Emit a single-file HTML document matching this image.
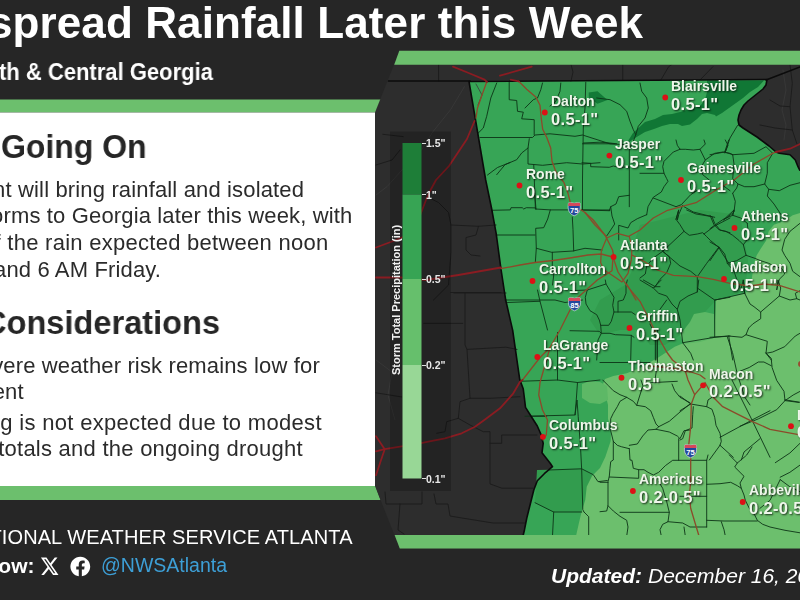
<!DOCTYPE html>
<html><head><meta charset="utf-8"><style>
html,body{margin:0;padding:0;}
body{width:800px;height:600px;overflow:hidden;position:relative;background:#262626;font-family:"Liberation Sans",sans-serif;}
.t{position:absolute;white-space:nowrap;line-height:1;will-change:transform;}
.map{position:absolute;left:0;top:0;}
.tick{position:absolute;left:421.5px;width:4px;height:1px;background:#e0e0e0;}
</style></head><body>
<svg class="map" width="800" height="600"><polygon points="0,99.5 381.5,99.5 376,112.5 0,112.5" fill="#6cbf6d"/>
<rect x="0" y="112.5" width="375.5" height="373.5" fill="#ffffff"/>
<polygon points="0,486 375.5,486 380.5,500 0,500" fill="#6cbf6d"/></svg>
<svg class="map" width="800" height="600" viewBox="0 0 800 600">
<defs><clipPath id="mc"><polygon points="399.6,50.5 800,50.5 800,549 400,549 375,486 375,112.5"/></clipPath></defs>
<g clip-path="url(#mc)">
<rect x="370" y="50" width="430" height="500" fill="#2d2d2d"/>
<polygon points="469,81.5 767,79.5 766,85 763,89 758,93 753,97 748,101 744,105 741,110 739,115 738,120 739,125 743,128 757,137 769,146 776,152 779.3,153.3 790,154.7 795.3,160 798,166.7 800,170.7 800,536 523,536 524.5,529.7 526.8,518 530.3,504 533.8,490 537.3,480.7 544.3,473.7 552.5,466.7 550.2,463.2 542,452.7 543.2,443.3 540.8,434 537.3,426 531.4,416.7 525.5,407.4 524.4,398 523.2,388.7 519.7,379.4 512.7,330.4 505.7,300 500.9,268.7 496.2,233.7 491.5,208 485.7,180" fill="#37a556"/>
<polygon points="640,225 700,210 740,215 748,260 746,283 742,292 716,300 705,312 690,322 680,335 665,345 650,345 640,330 620,330 600,335 590,320 600,300 625,285 635,265 635,240" fill="#329c4e"/>
<polygon points="537,470 582,469 593,475 585,500 582,512 553,512 535,503" fill="#329c4e"/>
<polygon points="800,213 792.7,215.3 784.7,220.7 774,224.7 768.7,231.3 766,240.7 760.7,248.7 756.7,255.3 754,263.3 752.7,272.7 751.3,282 750,290 744.7,293.3 730,297 716,300 715,320 714,338 700,341 688,341.3 674.7,346.7 658.7,357.3 640,368 626.7,373.3 613.3,376 605,379 603,384 605,392 608,405 608,419 611,429 610.7,441 605.3,457 600,468 592,476 586.7,486.7 585.3,500 581.3,513 578.7,524 576,536 800,536" fill="#6cbf6d"/>
<polygon points="694,314 705,312 714,314 714,338 700,342 684,344 680,335 690,322" fill="#5db866"/>
<polygon points="582,384 590,381 600,382 607,386 608,400 600,404 590,403 582,398" fill="#5db866"/>
<polygon points="628,141 633,133 645,122 655,119 663,115 672,114 680,112 690,109 700,106 705,100 707,92 707,80.5 764,80.5 758,87 750,92 743,98 736,103 729,108 722,113 716,116.5 715,115 707,113 702,114 697,119 690,124.5 682,126 678,124 670,124 662,126 654,129 645,132 635,138 628,143" fill="#107735"/>
<polygon points="588.75,92.5 597.5,91.25 607.5,100 597.5,103.75 588.75,97.5" fill="#137a37"/>
<polyline points="783,70 786,90 782,110 786,125 784,140" fill="none" stroke="#3a3a3a" stroke-width="0.8" stroke-opacity="1" stroke-linejoin="round" stroke-linecap="round"/><polyline points="464.4,86.7 450.8,109.4 432.7,132 421.4,150.2 405.5,166 387.3,186.4 376,195" fill="none" stroke="#3a3a3a" stroke-width="0.8" stroke-opacity="1" stroke-linejoin="round" stroke-linecap="round"/><polyline points="476,84 482,95 478,105" fill="none" stroke="#3a3a3a" stroke-width="0.8" stroke-opacity="1" stroke-linejoin="round" stroke-linecap="round"/><polyline points="376,360 392,372 388,395 395,420" fill="none" stroke="#3a3a3a" stroke-width="0.8" stroke-opacity="1" stroke-linejoin="round" stroke-linecap="round"/><polyline points="454,293 506,293" fill="none" stroke="#1b1b1b" stroke-width="0.9" stroke-opacity="1" stroke-linejoin="round" stroke-linecap="round"/><polyline points="465,293 465,345 467,349.4 506,347.2 517,349.4" fill="none" stroke="#1b1b1b" stroke-width="0.9" stroke-opacity="1" stroke-linejoin="round" stroke-linecap="round"/><polyline points="467,349.4 470,398.3 490,398.3 520,396.7" fill="none" stroke="#1b1b1b" stroke-width="0.9" stroke-opacity="1" stroke-linejoin="round" stroke-linecap="round"/><polyline points="470,398.3 460,401.7 458.3,418.3 446.7,421.7 445,431.7 436.7,433.3" fill="none" stroke="#1b1b1b" stroke-width="0.9" stroke-opacity="1" stroke-linejoin="round" stroke-linecap="round"/><polyline points="458.3,418.3 470,425 483.3,431.7 490,431.7 490,483.9 501.8,488.2 533,488.2" fill="none" stroke="#1b1b1b" stroke-width="0.9" stroke-opacity="1" stroke-linejoin="round" stroke-linecap="round"/><polyline points="490,443.3 501.7,443.3 501.7,435 537,435" fill="none" stroke="#1b1b1b" stroke-width="0.9" stroke-opacity="1" stroke-linejoin="round" stroke-linecap="round"/><polyline points="376,392.8 402,397" fill="none" stroke="#1b1b1b" stroke-width="0.9" stroke-opacity="1" stroke-linejoin="round" stroke-linecap="round"/><polyline points="385,492 386,504 422,504 422,492" fill="none" stroke="#1b1b1b" stroke-width="0.9" stroke-opacity="1" stroke-linejoin="round" stroke-linecap="round"/><polyline points="434,494 436,504 448,504 450,516 462,518 493,523 525,523" fill="none" stroke="#1b1b1b" stroke-width="0.9" stroke-opacity="1" stroke-linejoin="round" stroke-linecap="round"/><polyline points="400,504 398,530 404,534" fill="none" stroke="#1b1b1b" stroke-width="0.9" stroke-opacity="1" stroke-linejoin="round" stroke-linecap="round"/><polyline points="423.7,323.4 462.8,323.4" fill="none" stroke="#1b1b1b" stroke-width="0.9" stroke-opacity="1" stroke-linejoin="round" stroke-linecap="round"/><polyline points="438.6,64.5 438.6,81" fill="none" stroke="#1b1b1b" stroke-width="0.9" stroke-opacity="1" stroke-linejoin="round" stroke-linecap="round"/><polyline points="571,64.5 573,72 571,81" fill="none" stroke="#1b1b1b" stroke-width="0.9" stroke-opacity="1" stroke-linejoin="round" stroke-linecap="round"/><polyline points="622.8,64.5 622.8,80" fill="none" stroke="#1b1b1b" stroke-width="0.9" stroke-opacity="1" stroke-linejoin="round" stroke-linecap="round"/><polyline points="660.9,80 668.7,66.6 672,64.5" fill="none" stroke="#1b1b1b" stroke-width="0.9" stroke-opacity="1" stroke-linejoin="round" stroke-linecap="round"/><polyline points="700,80 713,66.6" fill="none" stroke="#1b1b1b" stroke-width="0.9" stroke-opacity="1" stroke-linejoin="round" stroke-linecap="round"/><polyline points="790,64.7 792.3,83.3 790,106.7 792.3,130 797,144" fill="none" stroke="#1b1b1b" stroke-width="0.9" stroke-opacity="1" stroke-linejoin="round" stroke-linecap="round"/><polyline points="770,100 780,106 790,106.7" fill="none" stroke="#1b1b1b" stroke-width="0.9" stroke-opacity="1" stroke-linejoin="round" stroke-linecap="round"/><polyline points="760,125 775,128 792.3,130" fill="none" stroke="#1b1b1b" stroke-width="0.9" stroke-opacity="1" stroke-linejoin="round" stroke-linecap="round"/><polyline points="451,225 478.5,226.3 496,225" fill="none" stroke="#1b1b1b" stroke-width="0.9" stroke-opacity="1" stroke-linejoin="round" stroke-linecap="round"/><polyline points="478.5,226.3 476,235 466,237.5 466,250 471,255 480,256" fill="none" stroke="#1b1b1b" stroke-width="0.9" stroke-opacity="1" stroke-linejoin="round" stroke-linecap="round"/><polyline points="423.5,195 438.5,202.5 448.5,212.5 451,225 451,252.5 448.5,285 433.5,300" fill="none" stroke="#1b1b1b" stroke-width="0.9" stroke-opacity="1" stroke-linejoin="round" stroke-linecap="round"/><polyline points="451,292.5 501,292.5" fill="none" stroke="#1b1b1b" stroke-width="0.9" stroke-opacity="1" stroke-linejoin="round" stroke-linecap="round"/><polyline points="382.8,134.3 403.2,136.6" fill="none" stroke="#1b1b1b" stroke-width="0.9" stroke-opacity="1" stroke-linejoin="round" stroke-linecap="round"/><polyline points="376,165 392,160 400,150" fill="none" stroke="#1b1b1b" stroke-width="0.9" stroke-opacity="1" stroke-linejoin="round" stroke-linecap="round"/><polyline points="496.7,83 490.8,98 486.7,116.3 483.3,128 478.3,133" fill="none" stroke="#0c3316" stroke-width="0.9" stroke-opacity="1" stroke-linejoin="round" stroke-linecap="round"/><polyline points="509.2,82.2 509.2,99.7 516.7,100.5 517.5,111.3 523.3,112.2 521.7,118.8 534.2,119.7 534.2,134.7" fill="none" stroke="#0c3316" stroke-width="0.9" stroke-opacity="1" stroke-linejoin="round" stroke-linecap="round"/><polyline points="525,108 533.3,99.7 537.5,98 540.8,89.7 542.5,83" fill="none" stroke="#0c3316" stroke-width="0.9" stroke-opacity="1" stroke-linejoin="round" stroke-linecap="round"/><polyline points="529.3,138.7 528,148 528,164 542.7,165.3 566.7,162.7 582.7,164 600,162.7" fill="none" stroke="#0c3316" stroke-width="0.9" stroke-opacity="1" stroke-linejoin="round" stroke-linecap="round"/><polyline points="528,148 521.7,153 516.7,159.7 505,164.7 496.7,174.7" fill="none" stroke="#0c3316" stroke-width="0.9" stroke-opacity="1" stroke-linejoin="round" stroke-linecap="round"/><polyline points="560.8,83 560,91.3 555.8,101.3 550,106" fill="none" stroke="#0c3316" stroke-width="0.9" stroke-opacity="1" stroke-linejoin="round" stroke-linecap="round"/><polyline points="585.8,82.2 585,108 583.3,128 582.5,178 582.5,210" fill="none" stroke="#0c3316" stroke-width="0.9" stroke-opacity="1" stroke-linejoin="round" stroke-linecap="round"/><polyline points="596.7,98 610,99.7 620,104.7 626.7,111.3 630,121.3 633.3,129.7 635.8,134.7 633.3,141.3 630,148" fill="none" stroke="#0c3316" stroke-width="0.9" stroke-opacity="1" stroke-linejoin="round" stroke-linecap="round"/><polyline points="640,83 641.7,91.3 646.7,98 648.3,108 645,118 638.3,126.3 635.8,134.7" fill="none" stroke="#0c3316" stroke-width="0.9" stroke-opacity="1" stroke-linejoin="round" stroke-linecap="round"/><polyline points="583.3,143 600,142.2 610,143 616.7,143.8" fill="none" stroke="#0c3316" stroke-width="0.9" stroke-opacity="1" stroke-linejoin="round" stroke-linecap="round"/><polyline points="582,162.7 590.7,163.3 590.7,166.7 609.3,167.3 613.3,166 618.7,167.3 629.3,167" fill="none" stroke="#0c3316" stroke-width="0.9" stroke-opacity="1" stroke-linejoin="round" stroke-linecap="round"/><polyline points="629.3,148 629.3,206.7" fill="none" stroke="#0c3316" stroke-width="0.9" stroke-opacity="1" stroke-linejoin="round" stroke-linecap="round"/><polyline points="582,210 609.3,210.7" fill="none" stroke="#0c3316" stroke-width="0.9" stroke-opacity="1" stroke-linejoin="round" stroke-linecap="round"/><polyline points="609.3,210.7 610.7,206.7 616,204 618.7,196.7 629.3,195.3" fill="none" stroke="#0c3316" stroke-width="0.9" stroke-opacity="1" stroke-linejoin="round" stroke-linecap="round"/><polyline points="610.7,206.7 612,216 614.7,224 606.7,236" fill="none" stroke="#0c3316" stroke-width="0.9" stroke-opacity="1" stroke-linejoin="round" stroke-linecap="round"/><polyline points="646.7,214.7 637.3,218.7 630.7,222.7 628,228 618.7,225.3 618.7,240" fill="none" stroke="#0c3316" stroke-width="0.9" stroke-opacity="1" stroke-linejoin="round" stroke-linecap="round"/><polyline points="737.5,125.5 730,138 725,153" fill="none" stroke="#0c3316" stroke-width="0.9" stroke-opacity="1" stroke-linejoin="round" stroke-linecap="round"/><polyline points="491.7,210.3 510.3,209.9 511,207.7 522.3,207.7 523.7,209 526.3,207.7 535.7,207.9 535.7,209 550.3,209.9 567.7,209.9 610,210" fill="none" stroke="#0c3316" stroke-width="0.9" stroke-opacity="1" stroke-linejoin="round" stroke-linecap="round"/><polyline points="533.75,165 535.4,209" fill="none" stroke="#0c3316" stroke-width="0.9" stroke-opacity="1" stroke-linejoin="round" stroke-linecap="round"/><polyline points="550.3,209.9 547.7,219 543.7,227.7 535.7,228.3 536.3,248.3 535.4,261.7" fill="none" stroke="#0c3316" stroke-width="0.9" stroke-opacity="1" stroke-linejoin="round" stroke-linecap="round"/><polyline points="536.3,248.3 551.7,252.3 573,251 585,248.3 602,250" fill="none" stroke="#0c3316" stroke-width="0.9" stroke-opacity="1" stroke-linejoin="round" stroke-linecap="round"/><polyline points="496.25,235 535,235" fill="none" stroke="#0c3316" stroke-width="0.9" stroke-opacity="1" stroke-linejoin="round" stroke-linecap="round"/><polyline points="572.3,217 573,229.7 573.7,251" fill="none" stroke="#0c3316" stroke-width="0.9" stroke-opacity="1" stroke-linejoin="round" stroke-linecap="round"/><polyline points="552.3,252.3 552.3,267 553.75,275 552.5,285" fill="none" stroke="#0c3316" stroke-width="0.9" stroke-opacity="1" stroke-linejoin="round" stroke-linecap="round"/><polyline points="505,300 535,300 555,300 565,302.5 582.5,300" fill="none" stroke="#0c3316" stroke-width="0.9" stroke-opacity="1" stroke-linejoin="round" stroke-linecap="round"/><polyline points="487.5,175 497.5,167.5 510,162.5" fill="none" stroke="#0c3316" stroke-width="0.9" stroke-opacity="1" stroke-linejoin="round" stroke-linecap="round"/><polyline points="534.7,193.3 536,209.3" fill="none" stroke="#0c3316" stroke-width="0.9" stroke-opacity="1" stroke-linejoin="round" stroke-linecap="round"/><polyline points="507.5,302.5 540,301.25 547.5,330" fill="none" stroke="#0c3316" stroke-width="0.9" stroke-opacity="1" stroke-linejoin="round" stroke-linecap="round"/><polyline points="557.5,332.5 557.5,380" fill="none" stroke="#0c3316" stroke-width="0.9" stroke-opacity="1" stroke-linejoin="round" stroke-linecap="round"/><polyline points="521.25,381.25 557.5,380 577.5,382.5 600,380" fill="none" stroke="#0c3316" stroke-width="0.9" stroke-opacity="1" stroke-linejoin="round" stroke-linecap="round"/><polyline points="577.5,382.5 576.25,400 575,415 577,400 578.2,416.3 580.5,446.7 581.7,470 582.8,509.7 584,512" fill="none" stroke="#0c3316" stroke-width="0.9" stroke-opacity="1" stroke-linejoin="round" stroke-linecap="round"/><polyline points="525,416.25 575,415" fill="none" stroke="#0c3316" stroke-width="0.9" stroke-opacity="1" stroke-linejoin="round" stroke-linecap="round"/><polyline points="600,362.5 630,362.5 650,362.5" fill="none" stroke="#0c3316" stroke-width="0.9" stroke-opacity="1" stroke-linejoin="round" stroke-linecap="round"/><polyline points="540,301.25 537.5,290" fill="none" stroke="#0c3316" stroke-width="0.9" stroke-opacity="1" stroke-linejoin="round" stroke-linecap="round"/><polyline points="657.5,330 657.5,362.5 655,380" fill="none" stroke="#0c3316" stroke-width="0.9" stroke-opacity="1" stroke-linejoin="round" stroke-linecap="round"/><polyline points="727.5,337.5 732.5,352.5 737.5,375 745,397.5 750,405" fill="none" stroke="#0c3316" stroke-width="0.9" stroke-opacity="1" stroke-linejoin="round" stroke-linecap="round"/><polyline points="530.3,416.3 546.7,416.3" fill="none" stroke="#0c3316" stroke-width="0.9" stroke-opacity="1" stroke-linejoin="round" stroke-linecap="round"/><polyline points="549,470 581.7,468.8 593.3,474.7 598,481.7 607.3,480.5" fill="none" stroke="#0c3316" stroke-width="0.9" stroke-opacity="1" stroke-linejoin="round" stroke-linecap="round"/><polyline points="535,502.7 549,509.7 553.7,512 581.7,512" fill="none" stroke="#0c3316" stroke-width="0.9" stroke-opacity="1" stroke-linejoin="round" stroke-linecap="round"/><polyline points="553.7,512 552.5,536" fill="none" stroke="#0c3316" stroke-width="0.9" stroke-opacity="1" stroke-linejoin="round" stroke-linecap="round"/><polyline points="584,512 588.7,516.7 588.7,536" fill="none" stroke="#0c3316" stroke-width="0.9" stroke-opacity="1" stroke-linejoin="round" stroke-linecap="round"/><polyline points="780.2,477.2 789.9,472.3 800,465.1" fill="none" stroke="#0c3316" stroke-width="0.9" stroke-opacity="1" stroke-linejoin="round" stroke-linecap="round"/><polyline points="775.3,462.7 789.9,453 800,443.3" fill="none" stroke="#0c3316" stroke-width="0.9" stroke-opacity="1" stroke-linejoin="round" stroke-linecap="round"/><polyline points="780.2,479.6 789.9,486.8 800,491.7" fill="none" stroke="#0c3316" stroke-width="0.9" stroke-opacity="1" stroke-linejoin="round" stroke-linecap="round"/><polyline points="785,399.8 800,402.3" fill="none" stroke="#0c3316" stroke-width="0.9" stroke-opacity="1" stroke-linejoin="round" stroke-linecap="round"/><polyline points="765.7,352.8 771.2,358.3 772.1,367.5 776.7,380.4 784,391.4 785,400.6" fill="none" stroke="#0c3316" stroke-width="0.9" stroke-opacity="1" stroke-linejoin="round" stroke-linecap="round"/><polyline points="740,371.2 749.2,367.5 758.3,362 763.9,362 771.2,365.7" fill="none" stroke="#0c3316" stroke-width="0.9" stroke-opacity="1" stroke-linejoin="round" stroke-linecap="round"/><polyline points="785,400.6 798.7,402.4" fill="none" stroke="#0c3316" stroke-width="0.9" stroke-opacity="1" stroke-linejoin="round" stroke-linecap="round"/><polyline points="740,426.2 758.3,418.9 776.7,409.7 785,400.6 793.2,395 800,391.4" fill="none" stroke="#0c3316" stroke-width="0.9" stroke-opacity="1" stroke-linejoin="round" stroke-linecap="round"/><polyline points="602.7,380 608,385.3 613.3,390.7 620,394.7 626.7,397.3 633.3,401.3 636.7,405.3 645.3,406.7 650.7,410.7 653.3,417.3 656,424 658.7,426.7" fill="none" stroke="#0c3316" stroke-width="0.9" stroke-opacity="1" stroke-linejoin="round" stroke-linecap="round"/><polyline points="641.3,390.7 636.7,405.3" fill="none" stroke="#0c3316" stroke-width="0.9" stroke-opacity="1" stroke-linejoin="round" stroke-linecap="round"/><polyline points="641.3,390.7 643,386 641,380" fill="none" stroke="#0c3316" stroke-width="0.9" stroke-opacity="1" stroke-linejoin="round" stroke-linecap="round"/><polyline points="626.7,397.3 620,401.3 617.3,406.7 613.3,413.3 610.7,418.7 610.7,430.7 613.3,441.3 617.3,445.3 621.3,446.7 629.3,448.7" fill="none" stroke="#0c3316" stroke-width="0.9" stroke-opacity="1" stroke-linejoin="round" stroke-linecap="round"/><polyline points="613.3,441.3 613.3,460 610.7,461.7 610,468.3 609.3,476.3 608,481.7 608,505.7 606.7,511 600,511.7" fill="none" stroke="#0c3316" stroke-width="0.9" stroke-opacity="1" stroke-linejoin="round" stroke-linecap="round"/><polyline points="629.3,448.7 630,460 632,460.3 633.3,468.3 638.7,469.7 638.7,478.3 609.3,477" fill="none" stroke="#0c3316" stroke-width="0.9" stroke-opacity="1" stroke-linejoin="round" stroke-linecap="round"/><polyline points="629.3,445.3 637.3,444 642.7,436 648,430 656,429.3 658.7,426.7" fill="none" stroke="#0c3316" stroke-width="0.9" stroke-opacity="1" stroke-linejoin="round" stroke-linecap="round"/><polyline points="658.7,426.7 669.3,421.3 680,412 690,404 690.7,404 706.7,406.7 712,409.3 714.7,417.3 716,425.3 720,433.3 721.3,441.3 720,445.3" fill="none" stroke="#0c3316" stroke-width="0.9" stroke-opacity="1" stroke-linejoin="round" stroke-linecap="round"/><polyline points="656,429.3 669.3,432 677.3,436 680,438.7 684,430.7 690,430" fill="none" stroke="#0c3316" stroke-width="0.9" stroke-opacity="1" stroke-linejoin="round" stroke-linecap="round"/><polyline points="678.7,438.7 678.7,460.3" fill="none" stroke="#0c3316" stroke-width="0.9" stroke-opacity="1" stroke-linejoin="round" stroke-linecap="round"/><polyline points="672,384 674.7,390.7 680,397.3 690,402.7" fill="none" stroke="#0c3316" stroke-width="0.9" stroke-opacity="1" stroke-linejoin="round" stroke-linecap="round"/><polyline points="650.7,382.7 677.3,381.3" fill="none" stroke="#0c3316" stroke-width="0.9" stroke-opacity="1" stroke-linejoin="round" stroke-linecap="round"/><polyline points="680,396 690.7,404" fill="none" stroke="#0c3316" stroke-width="0.9" stroke-opacity="1" stroke-linejoin="round" stroke-linecap="round"/><polyline points="690.7,404 680,410.7" fill="none" stroke="#0c3316" stroke-width="0.9" stroke-opacity="1" stroke-linejoin="round" stroke-linecap="round"/><polyline points="693.3,406.7 692.7,414.7 692,428 685.3,430.7 682.7,438.7 680,440" fill="none" stroke="#0c3316" stroke-width="0.9" stroke-opacity="1" stroke-linejoin="round" stroke-linecap="round"/><polyline points="706.7,406.7 708,400 712,397.3" fill="none" stroke="#0c3316" stroke-width="0.9" stroke-opacity="1" stroke-linejoin="round" stroke-linecap="round"/><polyline points="720,445.3 709.3,460" fill="none" stroke="#0c3316" stroke-width="0.9" stroke-opacity="1" stroke-linejoin="round" stroke-linecap="round"/><polyline points="720,445.3 733.3,457.3" fill="none" stroke="#0c3316" stroke-width="0.9" stroke-opacity="1" stroke-linejoin="round" stroke-linecap="round"/><polyline points="732,380 752,420 770,457.3" fill="none" stroke="#0c3316" stroke-width="0.9" stroke-opacity="1" stroke-linejoin="round" stroke-linecap="round"/><polyline points="720,437.3 752,420 770,410.7" fill="none" stroke="#0c3316" stroke-width="0.9" stroke-opacity="1" stroke-linejoin="round" stroke-linecap="round"/><polyline points="760,438.7 744,452 741.3,460" fill="none" stroke="#0c3316" stroke-width="0.9" stroke-opacity="1" stroke-linejoin="round" stroke-linecap="round"/><polyline points="638.7,469.7 644,469.7 648,472.3 653.3,475 658.7,472.3 665.3,465.7 672.7,460.3 690,460.3 706.7,460.3 708,455" fill="none" stroke="#0c3316" stroke-width="0.9" stroke-opacity="1" stroke-linejoin="round" stroke-linecap="round"/><polyline points="658.7,481.7 662.7,488.3 666.7,501.7 669.3,512.3 668,521.7 662.7,524.3 660,529.7 661.3,536" fill="none" stroke="#0c3316" stroke-width="0.9" stroke-opacity="1" stroke-linejoin="round" stroke-linecap="round"/><polyline points="608,505.7 613.3,511 620,516.3 626.7,520.3 628,527 626.7,536" fill="none" stroke="#0c3316" stroke-width="0.9" stroke-opacity="1" stroke-linejoin="round" stroke-linecap="round"/><polyline points="620,512.3 669.3,512.3" fill="none" stroke="#0c3316" stroke-width="0.9" stroke-opacity="1" stroke-linejoin="round" stroke-linecap="round"/><polyline points="668,521.7 682.7,523 690,527 706.7,527" fill="none" stroke="#0c3316" stroke-width="0.9" stroke-opacity="1" stroke-linejoin="round" stroke-linecap="round"/><polyline points="600,482.3 608,482.3" fill="none" stroke="#0c3316" stroke-width="0.9" stroke-opacity="1" stroke-linejoin="round" stroke-linecap="round"/><polyline points="684,527 685.3,536" fill="none" stroke="#0c3316" stroke-width="0.9" stroke-opacity="1" stroke-linejoin="round" stroke-linecap="round"/><polyline points="706.7,460.3 706.7,527" fill="none" stroke="#0c3316" stroke-width="0.9" stroke-opacity="1" stroke-linejoin="round" stroke-linecap="round"/><polyline points="680,496.3 706.7,496.3" fill="none" stroke="#0c3316" stroke-width="0.9" stroke-opacity="1" stroke-linejoin="round" stroke-linecap="round"/><polyline points="706.7,484.3 720,483.7 730.7,482.3 737.3,485.7 741.3,488.3 744,495 745.3,500.3 749.3,508.3 754.7,515 757.3,520.3 762.7,524.3 770,527 785,530.3 800,532.8" fill="none" stroke="#0c3316" stroke-width="0.9" stroke-opacity="1" stroke-linejoin="round" stroke-linecap="round"/><polyline points="706.7,520.3 724,521 757.3,521" fill="none" stroke="#0c3316" stroke-width="0.9" stroke-opacity="1" stroke-linejoin="round" stroke-linecap="round"/><polyline points="729.3,455 737.3,463 734.7,467 744,476.3 740,483 741.3,488.3" fill="none" stroke="#0c3316" stroke-width="0.9" stroke-opacity="1" stroke-linejoin="round" stroke-linecap="round"/><polyline points="737.3,463 745.3,456.3 746.7,455 752,447" fill="none" stroke="#0c3316" stroke-width="0.9" stroke-opacity="1" stroke-linejoin="round" stroke-linecap="round"/><polyline points="721.3,521.7 724,529.7 725.3,536" fill="none" stroke="#0c3316" stroke-width="0.9" stroke-opacity="1" stroke-linejoin="round" stroke-linecap="round"/><polyline points="760,508.3 770,500.3 780.2,479.6" fill="none" stroke="#0c3316" stroke-width="0.9" stroke-opacity="1" stroke-linejoin="round" stroke-linecap="round"/><polyline points="676,140 677.3,145.3 680,149.3 685.3,149.3 693.3,150 700,149.3 705.3,144 704,140" fill="none" stroke="#0c3316" stroke-width="0.9" stroke-opacity="1" stroke-linejoin="round" stroke-linecap="round"/><polyline points="680,149.3 673.3,152 669.3,156 664,161.3 662.7,166.7 664,173.3 666.7,178.7 668,181.3 664,186.7 661.3,192 653.3,197.3 648,206.7 646.7,214.7" fill="none" stroke="#0c3316" stroke-width="0.9" stroke-opacity="1" stroke-linejoin="round" stroke-linecap="round"/><polyline points="640,173.3 664,173.3" fill="none" stroke="#0c3316" stroke-width="0.9" stroke-opacity="1" stroke-linejoin="round" stroke-linecap="round"/><polyline points="653.3,198 676,206.7 681.3,204.7 690.7,194.7 698.7,189.3" fill="none" stroke="#0c3316" stroke-width="0.9" stroke-opacity="1" stroke-linejoin="round" stroke-linecap="round"/><polyline points="700,149.3 705.3,160 714.7,153.3 722.7,152 730,153.3 732.7,154.7" fill="none" stroke="#0c3316" stroke-width="0.9" stroke-opacity="1" stroke-linejoin="round" stroke-linecap="round"/><polyline points="705.3,160 701.3,166.7 702.7,174.7 709.3,180" fill="none" stroke="#0c3316" stroke-width="0.9" stroke-opacity="1" stroke-linejoin="round" stroke-linecap="round"/><polyline points="725.3,140 728,145.3 725.3,152" fill="none" stroke="#0c3316" stroke-width="0.9" stroke-opacity="1" stroke-linejoin="round" stroke-linecap="round"/><polyline points="682.7,205.3 678.7,214.7 677.3,220 678.7,210 676,219.3" fill="none" stroke="#0c3316" stroke-width="0.9" stroke-opacity="1" stroke-linejoin="round" stroke-linecap="round"/><polyline points="684,206.7 693.3,212 704,214.7 714.7,217.3" fill="none" stroke="#0c3316" stroke-width="0.9" stroke-opacity="1" stroke-linejoin="round" stroke-linecap="round"/><polyline points="722.7,185.3 730,190.7" fill="none" stroke="#0c3316" stroke-width="0.9" stroke-opacity="1" stroke-linejoin="round" stroke-linecap="round"/><polyline points="728.7,140 724.7,152 732.7,154.7 734,164 732.7,178.7 738,184 736.7,188 732.7,193.3" fill="none" stroke="#0c3316" stroke-width="0.9" stroke-opacity="1" stroke-linejoin="round" stroke-linecap="round"/><polyline points="710,154.7 724.7,152" fill="none" stroke="#0c3316" stroke-width="0.9" stroke-opacity="1" stroke-linejoin="round" stroke-linecap="round"/><polyline points="732.7,154.7 754,153.3 766,146.7 772.7,153.3" fill="none" stroke="#0c3316" stroke-width="0.9" stroke-opacity="1" stroke-linejoin="round" stroke-linecap="round"/><polyline points="772.7,153.3 767.3,162.7 767.3,173.3 764.7,184 768.7,189.3 767.3,196 774,204 779.3,212 784.7,220" fill="none" stroke="#0c3316" stroke-width="0.9" stroke-opacity="1" stroke-linejoin="round" stroke-linecap="round"/><polyline points="738,184 744.7,186.7 754,186.7 764.7,184" fill="none" stroke="#0c3316" stroke-width="0.9" stroke-opacity="1" stroke-linejoin="round" stroke-linecap="round"/><polyline points="768.7,189.3 779.3,190.7 790,185.3 800,182.7" fill="none" stroke="#0c3316" stroke-width="0.9" stroke-opacity="1" stroke-linejoin="round" stroke-linecap="round"/><polyline points="732.7,193.3 735.3,201.3 734,212 727.3,217.3 723.3,220 734,210 732.7,215.3" fill="none" stroke="#0c3316" stroke-width="0.9" stroke-opacity="1" stroke-linejoin="round" stroke-linecap="round"/><polyline points="678.7,210 676,219.3 680,224.7 684,231.3 689.3,235.3 697.3,234 702.7,232.7 706.7,236.7 710.7,240.7 718.7,247.3" fill="none" stroke="#0c3316" stroke-width="0.9" stroke-opacity="1" stroke-linejoin="round" stroke-linecap="round"/><polyline points="684,231.3 662.7,251.3 653.3,258 646.7,266 645.3,274 640,278" fill="none" stroke="#0c3316" stroke-width="0.9" stroke-opacity="1" stroke-linejoin="round" stroke-linecap="round"/><polyline points="662.7,251.3 669.3,256.7 670.7,263.3 666.7,272.7 660,279.3 654.7,287.3" fill="none" stroke="#0c3316" stroke-width="0.9" stroke-opacity="1" stroke-linejoin="round" stroke-linecap="round"/><polyline points="662.7,251.3 680,266 690.7,271.3 697.3,276.7 697.3,292" fill="none" stroke="#0c3316" stroke-width="0.9" stroke-opacity="1" stroke-linejoin="round" stroke-linecap="round"/><polyline points="697.3,276.7 706.7,263.3 718.7,247.3" fill="none" stroke="#0c3316" stroke-width="0.9" stroke-opacity="1" stroke-linejoin="round" stroke-linecap="round"/><polyline points="718.7,247.3 722.7,254 728,262 730,264.7" fill="none" stroke="#0c3316" stroke-width="0.9" stroke-opacity="1" stroke-linejoin="round" stroke-linecap="round"/><polyline points="686.7,210 696,214 704,215.3 712,216.7 714.7,223.3 720,230 730,232.7" fill="none" stroke="#0c3316" stroke-width="0.9" stroke-opacity="1" stroke-linejoin="round" stroke-linecap="round"/><polyline points="704,234 714.7,226 730,218" fill="none" stroke="#0c3316" stroke-width="0.9" stroke-opacity="1" stroke-linejoin="round" stroke-linecap="round"/><polyline points="734,210 732.7,215.3 723.3,219.3 715.3,224.7 710,228.7" fill="none" stroke="#0c3316" stroke-width="0.9" stroke-opacity="1" stroke-linejoin="round" stroke-linecap="round"/><polyline points="732.7,215.3 740.7,218 747.3,223.3" fill="none" stroke="#0c3316" stroke-width="0.9" stroke-opacity="1" stroke-linejoin="round" stroke-linecap="round"/><polyline points="710,215.3 714,224.7 719.3,230 726,231.3 732.7,235.3 739.3,240.7 743.3,244.7 744.7,250 746,255.3 754,258 760.7,260.7 768.7,263.3 774,266" fill="none" stroke="#0c3316" stroke-width="0.9" stroke-opacity="1" stroke-linejoin="round" stroke-linecap="round"/><polyline points="743.3,244.7 748.7,238 747.3,223.3" fill="none" stroke="#0c3316" stroke-width="0.9" stroke-opacity="1" stroke-linejoin="round" stroke-linecap="round"/><polyline points="710,242 719.3,247.3 724.7,254 727.3,263.3 734,271.3 736.7,279.3 740.7,290 743.3,280 744.7,293.3" fill="none" stroke="#0c3316" stroke-width="0.9" stroke-opacity="1" stroke-linejoin="round" stroke-linecap="round"/><polyline points="719.3,247.3 712.7,256.7 710,260.7" fill="none" stroke="#0c3316" stroke-width="0.9" stroke-opacity="1" stroke-linejoin="round" stroke-linecap="round"/><polyline points="746,255.3 736.7,260.7 727.3,263.3" fill="none" stroke="#0c3316" stroke-width="0.9" stroke-opacity="1" stroke-linejoin="round" stroke-linecap="round"/><polyline points="800,223.3 790,231.3 784.7,239.3 782,250 784.7,255.3 790,263.3 792.7,271.3 800,276.7" fill="none" stroke="#0c3316" stroke-width="0.9" stroke-opacity="1" stroke-linejoin="round" stroke-linecap="round"/><polyline points="774,266 782,268.7 784.7,274 779.3,279.3 776.7,290 778,280 780.7,288 779.3,296" fill="none" stroke="#0c3316" stroke-width="0.9" stroke-opacity="1" stroke-linejoin="round" stroke-linecap="round"/><polyline points="698.7,280 697.3,292 688,296 680,301.3 677.3,309.3 680,320 681.3,330.7 682.7,342.7 690.7,353.3 693.3,360" fill="none" stroke="#0c3316" stroke-width="0.9" stroke-opacity="1" stroke-linejoin="round" stroke-linecap="round"/><polyline points="697.3,288 714.7,300 730,297.3" fill="none" stroke="#0c3316" stroke-width="0.9" stroke-opacity="1" stroke-linejoin="round" stroke-linecap="round"/><polyline points="714.7,300 714.7,337.3" fill="none" stroke="#0c3316" stroke-width="0.9" stroke-opacity="1" stroke-linejoin="round" stroke-linecap="round"/><polyline points="682.7,342.7 714.7,337.3 730,336" fill="none" stroke="#0c3316" stroke-width="0.9" stroke-opacity="1" stroke-linejoin="round" stroke-linecap="round"/><polyline points="640,280 653.3,288 658.7,293.3 666.7,296 672,304 677.3,309.3" fill="none" stroke="#0c3316" stroke-width="0.9" stroke-opacity="1" stroke-linejoin="round" stroke-linecap="round"/><polyline points="653.3,288 661.3,280" fill="none" stroke="#0c3316" stroke-width="0.9" stroke-opacity="1" stroke-linejoin="round" stroke-linecap="round"/><polyline points="666.7,300 660,309.3" fill="none" stroke="#0c3316" stroke-width="0.9" stroke-opacity="1" stroke-linejoin="round" stroke-linecap="round"/><polyline points="656,340 656,360" fill="none" stroke="#0c3316" stroke-width="0.9" stroke-opacity="1" stroke-linejoin="round" stroke-linecap="round"/><polyline points="744.7,293.3 715.3,300" fill="none" stroke="#0c3316" stroke-width="0.9" stroke-opacity="1" stroke-linejoin="round" stroke-linecap="round"/><polyline points="710,337.3 728.7,336 742,337.3 746,334.7 767.3,341.3 766,353.3 772.7,352 784.7,346.7 795.3,336 800,333.3" fill="none" stroke="#0c3316" stroke-width="0.9" stroke-opacity="1" stroke-linejoin="round" stroke-linecap="round"/><polyline points="728.7,336 732.7,360" fill="none" stroke="#0c3316" stroke-width="0.9" stroke-opacity="1" stroke-linejoin="round" stroke-linecap="round"/><polyline points="744.7,293.3 750,304 754,306.7 760.7,312 760.7,318.7 752.7,324 748.7,328 746,334.7" fill="none" stroke="#0c3316" stroke-width="0.9" stroke-opacity="1" stroke-linejoin="round" stroke-linecap="round"/><polyline points="760.7,312 770,304 779.3,296 790,300 796.7,298.7 800,300" fill="none" stroke="#0c3316" stroke-width="0.9" stroke-opacity="1" stroke-linejoin="round" stroke-linecap="round"/><polyline points="796.7,298.7 795.3,293.3 800,290.7" fill="none" stroke="#0c3316" stroke-width="0.9" stroke-opacity="1" stroke-linejoin="round" stroke-linecap="round"/><polyline points="766,353.3 771.3,360" fill="none" stroke="#0c3316" stroke-width="0.9" stroke-opacity="1" stroke-linejoin="round" stroke-linecap="round"/><polyline points="743.3,280 744.7,293.3" fill="none" stroke="#0c3316" stroke-width="0.9" stroke-opacity="1" stroke-linejoin="round" stroke-linecap="round"/><polyline points="570,290.7 587.3,290 606,284 605.3,280" fill="none" stroke="#0c3316" stroke-width="0.9" stroke-opacity="1" stroke-linejoin="round" stroke-linecap="round"/><polyline points="587.3,290 585.3,297.3 586,304 590,310.7 596.7,314.7 599.3,320 600.7,325.3 601.3,333.3 598,340 596.7,360" fill="none" stroke="#0c3316" stroke-width="0.9" stroke-opacity="1" stroke-linejoin="round" stroke-linecap="round"/><polyline points="606,284 610,290.7 614,297.3 612.7,305.3 614,312 611.3,321.3 608.7,325.3 600.7,325.3" fill="none" stroke="#0c3316" stroke-width="0.9" stroke-opacity="1" stroke-linejoin="round" stroke-linecap="round"/><polyline points="614,312 631.3,312 635.3,314.7" fill="none" stroke="#0c3316" stroke-width="0.9" stroke-opacity="1" stroke-linejoin="round" stroke-linecap="round"/><polyline points="618,312 618,301.3 623.3,300 626,293.3 626,285.3 627.3,280" fill="none" stroke="#0c3316" stroke-width="0.9" stroke-opacity="1" stroke-linejoin="round" stroke-linecap="round"/><polyline points="570,330.7 599.3,331.3 601.3,333.3 610,333.3 615.3,334.7 631.3,335.3 634,337.3" fill="none" stroke="#0c3316" stroke-width="0.9" stroke-opacity="1" stroke-linejoin="round" stroke-linecap="round"/><polyline points="631.3,335.3 630.7,360" fill="none" stroke="#0c3316" stroke-width="0.9" stroke-opacity="1" stroke-linejoin="round" stroke-linecap="round"/><polyline points="643.3,280 655.3,286.7 660,286.7" fill="none" stroke="#0c3316" stroke-width="0.9" stroke-opacity="1" stroke-linejoin="round" stroke-linecap="round"/><polyline points="650,324 655.3,336 655.3,360" fill="none" stroke="#0c3316" stroke-width="0.9" stroke-opacity="1" stroke-linejoin="round" stroke-linecap="round"/><polyline points="480,137.5 532.5,137.5 535,135 550,133.8 575,136.3 582.5,135 610,143.8 630,145" fill="none" stroke="#0c3316" stroke-width="0.9" stroke-opacity="1" stroke-linejoin="round" stroke-linecap="round"/><polyline points="582.5,143.8 615,143.8" fill="none" stroke="#0c3316" stroke-width="0.9" stroke-opacity="1" stroke-linejoin="round" stroke-linecap="round"/>
<polyline points="523,536 524.5,529.7 526.8,518 530.3,504 533.8,490 537.3,480.7 544.3,473.7 552.5,466.7 550.2,463.2 542,452.7 543.2,443.3 540.8,434 537.3,426 531.4,416.7 525.5,407.4 524.4,398 523.2,388.7 519.7,379.4 512.7,330.4 505.7,300 500.9,268.7 496.2,233.7 491.5,208 485.7,180 469,81.5 767,79.5 766,85 763,89 758,93 753,97 748,101 744,105 741,110 739,115 738,120 739,125 743,128 757,137 769,146 776,152 779.3,153.3 790,154.7 795.3,160 798,166.7 800,170.7" fill="none" stroke="#0b0b0b" stroke-width="1.6" stroke-linejoin="round"/>
<polyline points="388.5,81 470,81" fill="none" stroke="#0b0b0b" stroke-width="1.6" stroke-opacity="1" stroke-linejoin="round" stroke-linecap="round"/><polyline points="766,80 800,67" fill="none" stroke="#0b0b0b" stroke-width="1.6" stroke-opacity="1" stroke-linejoin="round" stroke-linecap="round"/>
<polyline points="518.7,81.3 526.7,89.3 536,97.3 540,105.3 541.3,118.7 542.7,129.3 546.7,137.3 550.7,148 552,161.3 556,172 564,182.7 568,193.3 570.7,204 573.75,205 585,212.5 595,225 605,235 612.5,250 613.75,256" fill="none" stroke="#8c4a2a" stroke-width="1.3" stroke-opacity="1" stroke-linejoin="round" stroke-linecap="round"/><polyline points="486.7,82 482,95 477.5,108 476,118" fill="none" stroke="#8c4a2a" stroke-width="1.3" stroke-opacity="1" stroke-linejoin="round" stroke-linecap="round"/><polyline points="500.9,268.7 520,265 535,262.5 553,260.5 570,258 588,255 601,254 613,257" fill="none" stroke="#8c4a2a" stroke-width="1.3" stroke-opacity="1" stroke-linejoin="round" stroke-linecap="round"/><polyline points="613,257 612,270.7 597.3,280 584,292 575,300 567.5,315 560,330 550,347.5 540,357.5 522.5,380" fill="none" stroke="#8c4a2a" stroke-width="1.3" stroke-opacity="1" stroke-linejoin="round" stroke-linecap="round"/><polyline points="550,347.5 545,365 540,382.5 538.75,395 542.5,410 547.5,420 546.25,435 543,440" fill="none" stroke="#8c4a2a" stroke-width="1.3" stroke-opacity="1" stroke-linejoin="round" stroke-linecap="round"/><polyline points="613,257 618,272 626.7,285.3 640,301.3 656,333 666.7,352 672.5,360 685,370 688,380 694.7,394.7 691.3,404 690.7,426.7 688.7,445.3 690.7,455 690.7,481.7 689.3,495 690.7,508.3 694.7,521.7 699,536" fill="none" stroke="#8c4a2a" stroke-width="1.3" stroke-opacity="1" stroke-linejoin="round" stroke-linecap="round"/><polyline points="685,370 700,375 705,378.75" fill="none" stroke="#8c4a2a" stroke-width="1.3" stroke-opacity="1" stroke-linejoin="round" stroke-linecap="round"/><polyline points="705,382.5 713.3,397.3 722.7,406.7 736,413.3 752,421.3 770,429.3 800,434.9" fill="none" stroke="#8c4a2a" stroke-width="1.3" stroke-opacity="1" stroke-linejoin="round" stroke-linecap="round"/><polyline points="702.7,385.3 694.7,394.7" fill="none" stroke="#8c4a2a" stroke-width="1.3" stroke-opacity="1" stroke-linejoin="round" stroke-linecap="round"/><polyline points="632,255 645,262 657.3,270 673.3,275.3 697.3,276.7 713.3,279.3 730,283.3 750,286 763.3,284 779.3,285.3 800,292" fill="none" stroke="#8c4a2a" stroke-width="1.3" stroke-opacity="1" stroke-linejoin="round" stroke-linecap="round"/><polyline points="629.3,236 640,230 653.3,218 666.7,210.7 681.3,206.7 696,202.7 706.7,196 717.3,189.3 734,180 754,164 772.7,153.3 776,152" fill="none" stroke="#8c4a2a" stroke-width="1.3" stroke-opacity="1" stroke-linejoin="round" stroke-linecap="round"/><polyline points="626.7,284 636,300" fill="none" stroke="#8c4a2a" stroke-width="1.3" stroke-opacity="1" stroke-linejoin="round" stroke-linecap="round"/><polyline points="606.7,237.3 593.3,220 585,212.5" fill="none" stroke="#8c4a2a" stroke-width="1.3" stroke-opacity="1" stroke-linejoin="round" stroke-linecap="round"/><polyline points="650,366 672,368 690,372" fill="none" stroke="#8c4a2a" stroke-width="1.3" stroke-opacity="1" stroke-linejoin="round" stroke-linecap="round"/><polyline points="606.7,238 617.3,233.3 629.3,236.7 632,247 631.3,260 628,273.3 622,282 613.3,276 604,270 600.7,262.7 601.3,251 606.7,238" fill="none" stroke="#8c4a2a" stroke-width="1.2" stroke-opacity="1" stroke-linejoin="round" stroke-linecap="round"/><polyline points="474.5,121 467,139 449,166 436,180 430,191 426,200 413.5,232.5 396,240 376,247.5" fill="none" stroke="#8a1c22" stroke-width="1.8" stroke-opacity="1" stroke-linejoin="round" stroke-linecap="round"/><polyline points="376,277.5 401,277.5 426,280 458.5,275 501,267.5" fill="none" stroke="#8a1c22" stroke-width="1.8" stroke-opacity="1" stroke-linejoin="round" stroke-linecap="round"/><polyline points="522.5,380 520,381.7 513.3,393.3 500,408.3 486.7,418.3 475,426.7 461.7,433.3 445,438.3 428.3,441.7 420,443.3 384.7,449.2 376,451.4" fill="none" stroke="#8a1c22" stroke-width="1.8" stroke-opacity="1" stroke-linejoin="round" stroke-linecap="round"/><polyline points="376,436.2 384.7,449.2 380.3,462.2 376,475.2" fill="none" stroke="#8a1c22" stroke-width="1.8" stroke-opacity="1" stroke-linejoin="round" stroke-linecap="round"/><polyline points="453,66.6 468.7,73 484.5,79.7 487,82" fill="none" stroke="#8a1c22" stroke-width="1.8" stroke-opacity="1" stroke-linejoin="round" stroke-linecap="round"/><polyline points="500,75.7 531.7,66.6" fill="none" stroke="#8a1c22" stroke-width="1.8" stroke-opacity="1" stroke-linejoin="round" stroke-linecap="round"/><polyline points="510.7,79.7 518.7,81.3" fill="none" stroke="#8a1c22" stroke-width="1.8" stroke-opacity="1" stroke-linejoin="round" stroke-linecap="round"/><polyline points="776,152 790,148.7 800,144" fill="none" stroke="#8a1c22" stroke-width="1.8" stroke-opacity="1" stroke-linejoin="round" stroke-linecap="round"/>
<rect x="390" y="131.5" width="61" height="359.5" fill="rgba(0,0,0,0.22)"/>
<rect x="402.5" y="143" width="19" height="51.5" fill="#1e7e38"/>
<rect x="402.5" y="194.5" width="19" height="84.5" fill="#37a454"/>
<rect x="402.5" y="279" width="19" height="86" fill="#66bf6c"/>
<rect x="402.5" y="365" width="19" height="113.5" fill="#98d796"/>
<circle cx="544.8" cy="112.5" r="2.9" fill="#dc1116"/><circle cx="665.25" cy="97.5" r="2.9" fill="#dc1116"/><circle cx="609.4" cy="155.6" r="2.9" fill="#dc1116"/><circle cx="519.5" cy="185.5" r="2.9" fill="#dc1116"/><circle cx="681" cy="180" r="2.9" fill="#dc1116"/><circle cx="734.5" cy="228" r="2.9" fill="#dc1116"/><circle cx="613.6" cy="257" r="2.9" fill="#dc1116"/><circle cx="532.5" cy="281" r="2.9" fill="#dc1116"/><circle cx="724" cy="279" r="2.9" fill="#dc1116"/><circle cx="629.5" cy="328" r="2.9" fill="#dc1116"/><circle cx="537.3" cy="357" r="2.9" fill="#dc1116"/><circle cx="621.5" cy="377.75" r="2.9" fill="#dc1116"/><circle cx="703.1" cy="385.3" r="2.9" fill="#dc1116"/><circle cx="542.9" cy="436.8" r="2.9" fill="#dc1116"/><circle cx="632.9" cy="491" r="2.9" fill="#dc1116"/><circle cx="742.7" cy="502" r="2.9" fill="#dc1116"/><circle cx="791" cy="426.2" r="2.9" fill="#dc1116"/><circle cx="801" cy="364" r="3" fill="#9a4a30"/>
<g transform="translate(567.9000000000001,202.2)"><path d="M0.5,0.8 Q3.2,0 6.3,1 Q9.4,0 12.1,0.8 L12.4,5 Q12.4,11.5 6.3,13.6 Q0.2,11.5 0.2,5 Z" fill="#23479b" stroke="#e8eef0" stroke-width="0.6"/><path d="M0.5,0.8 Q3.2,0 6.3,1 Q9.4,0 12.1,0.8 L12.3,3.8 L0.3,3.8 Z" fill="#d8485a"/><text x="6.3" y="11.2" text-anchor="middle" font-family="Liberation Sans" font-weight="bold" font-size="7.6" fill="#ffffff">75</text></g><g transform="translate(568.2,297.2)"><path d="M0.5,0.8 Q3.2,0 6.3,1 Q9.4,0 12.1,0.8 L12.4,5 Q12.4,11.5 6.3,13.6 Q0.2,11.5 0.2,5 Z" fill="#23479b" stroke="#e8eef0" stroke-width="0.6"/><path d="M0.5,0.8 Q3.2,0 6.3,1 Q9.4,0 12.1,0.8 L12.3,3.8 L0.3,3.8 Z" fill="#d8485a"/><text x="6.3" y="11.2" text-anchor="middle" font-family="Liberation Sans" font-weight="bold" font-size="7.6" fill="#ffffff">85</text></g><g transform="translate(684.2,444.2)"><path d="M0.5,0.8 Q3.2,0 6.3,1 Q9.4,0 12.1,0.8 L12.4,5 Q12.4,11.5 6.3,13.6 Q0.2,11.5 0.2,5 Z" fill="#23479b" stroke="#e8eef0" stroke-width="0.6"/><path d="M0.5,0.8 Q3.2,0 6.3,1 Q9.4,0 12.1,0.8 L12.3,3.8 L0.3,3.8 Z" fill="#d8485a"/><text x="6.3" y="11.2" text-anchor="middle" font-family="Liberation Sans" font-weight="bold" font-size="7.6" fill="#ffffff">75</text></g>
</g>
<polygon points="399.3,50.8 800,50.8 800,64.8 394.2,64.8" fill="#6cbf6d"/>
<polygon points="394.6,535 800,535 800,548.5 399.8,548.5" fill="#6cbf6d"/>
</svg>

<div class="t" style="left:-12.0px;top:1.0px;font-size:44px;font-weight:bold;font-style:normal;color:#ffffff;letter-spacing:0.1px;">spread Rainfall Later this Week</div>
<div class="t" style="left:-1.5px;top:61.2px;font-size:23.5px;font-weight:bold;font-style:normal;color:#ffffff;letter-spacing:0;transform:scaleX(0.936);transform-origin:0 0">th &amp; Central Georgia</div>
<div class="t" style="left:0.6px;top:130.4px;font-size:33.5px;font-weight:bold;font-style:normal;color:#262626;letter-spacing:0;transform:scaleX(0.955);transform-origin:0 0">Going On</div>
<div class="t" style="left:-32.7px;top:178.7px;font-size:22px;font-weight:normal;font-style:normal;color:#2b2b2b;letter-spacing:0.15px;">front will bring rainfall and isolated</div>
<div class="t" style="left:-102.0px;top:204.7px;font-size:22px;font-weight:normal;font-style:normal;color:#2b2b2b;letter-spacing:0.15px;">thunderstorms to Georgia later this week, with</div>
<div class="t" style="left:-18.3px;top:231.7px;font-size:22px;font-weight:normal;font-style:normal;color:#2b2b2b;letter-spacing:0.27px;">of the rain expected between noon</div>
<div class="t" style="left:-6.0px;top:258.7px;font-size:22px;font-weight:normal;font-style:normal;color:#2b2b2b;letter-spacing:0.15px;">and 6 AM Friday.</div>
<div class="t" style="left:-17.0px;top:305.5px;font-size:33.5px;font-weight:bold;font-style:normal;color:#262626;letter-spacing:0;transform:scaleX(0.972);transform-origin:0 0">Considerations</div>
<div class="t" style="left:-75.8px;top:354.7px;font-size:22px;font-weight:normal;font-style:normal;color:#2b2b2b;letter-spacing:0.15px;">The severe weather risk remains low for</div>
<div class="t" style="left:-72.0px;top:380.7px;font-size:22px;font-weight:normal;font-style:normal;color:#2b2b2b;letter-spacing:0.15px;">this event</div>
<div class="t" style="left:-74.5px;top:411.7px;font-size:22px;font-weight:normal;font-style:normal;color:#2b2b2b;letter-spacing:0.31px;">Flooding is not expected due to modest</div>
<div class="t" style="left:-75.0px;top:437.7px;font-size:22px;font-weight:normal;font-style:normal;color:#2b2b2b;letter-spacing:0.25px;">rainfall totals and the ongoing drought</div>
<div class="t" style="left:-37.0px;top:526.9px;font-size:20px;font-weight:normal;font-style:normal;color:#ffffff;letter-spacing:0.1px;">NATIONAL WEATHER SERVICE ATLANTA</div>
<div class="t" style="left:-39.5px;top:554.7px;font-size:21px;font-weight:bold;font-style:normal;color:#ffffff;letter-spacing:0;">Follow:</div>
<div class="t" style="left:101.0px;top:556.0px;font-size:19.5px;font-weight:normal;font-style:normal;color:#3d9fd6;letter-spacing:0;">@NWSAtlanta</div>
<div class="t" style="left:551.3px;top:565.3px;font-size:21px;font-weight:bold;font-style:italic;color:#ffffff;letter-spacing:0;">Updated:</div>
<div class="t" style="left:647.5px;top:565.3px;font-size:21px;font-weight:normal;font-style:italic;color:#ffffff;letter-spacing:0;">December 16, 2024</div>

<svg class="map" width="800" height="600" style="pointer-events:none"><path transform="translate(39.9,555.6) scale(0.815,0.89)" fill="#ffffff" d="M18.244 2.25h3.308l-7.227 8.26 8.502 11.24H16.17l-5.214-6.817L4.99 21.75H1.68l7.73-8.835L1.254 2.25H8.08l4.713 6.231zm-1.161 17.52h1.833L7.084 4.126H5.117z"/><path transform="translate(70.4,556.6) scale(0.825)" fill="#ffffff" d="M24 12.073c0-6.627-5.373-12-12-12s-12 5.373-12 12c0 5.99 4.388 10.954 10.125 11.854v-8.385H7.078v-3.47h3.047V9.43c0-3.007 1.792-4.669 4.533-4.669 1.312 0 2.686.235 2.686.235v2.953H15.83c-1.491 0-1.956.925-1.956 1.874v2.25h3.328l-.532 3.47h-2.796v8.385C19.612 23.027 24 18.062 24 12.073z"/></svg>
<div class="tick" style="top:142.5px"></div><div class="t" style="left:425.5px;top:138.1px;font-size:10.5px;font-weight:bold;font-style:normal;color:#e8e8e8;letter-spacing:0;">1.5&quot;</div>
<div class="tick" style="top:194.0px"></div><div class="t" style="left:425.5px;top:189.6px;font-size:10.5px;font-weight:bold;font-style:normal;color:#e8e8e8;letter-spacing:0;">1&quot;</div>
<div class="tick" style="top:278.5px"></div><div class="t" style="left:425.5px;top:274.1px;font-size:10.5px;font-weight:bold;font-style:normal;color:#e8e8e8;letter-spacing:0;">0.5&quot;</div>
<div class="tick" style="top:364.5px"></div><div class="t" style="left:425.5px;top:360.1px;font-size:10.5px;font-weight:bold;font-style:normal;color:#e8e8e8;letter-spacing:0;">0.2&quot;</div>
<div class="tick" style="top:478.0px"></div><div class="t" style="left:425.5px;top:473.6px;font-size:10.5px;font-weight:bold;font-style:normal;color:#e8e8e8;letter-spacing:0;">0.1&quot;</div>
<div class="t" style="left:391.2px;top:374.5px;font-size:11px;font-weight:bold;color:#f0f0f0;transform-origin:0 0;transform:rotate(-90deg);line-height:1">Storm Total Precipitation (in)</div>

<div class="t" style="left:550.8px;top:93.8px;font-size:14px;font-weight:bold;font-style:normal;color:#eef6ea;letter-spacing:0;text-shadow:1px 1px 2px rgba(0,0,0,.75)">Dalton</div>
<div class="t" style="left:550.8px;top:110.5px;font-size:16.5px;font-weight:bold;font-style:normal;color:#eef6ea;letter-spacing:0.35px;text-shadow:1px 1px 2px rgba(0,0,0,.75)">0.5-1&quot;</div>
<div class="t" style="left:671.2px;top:78.8px;font-size:14px;font-weight:bold;font-style:normal;color:#eef6ea;letter-spacing:0;text-shadow:1px 1px 2px rgba(0,0,0,.75)">Blairsville</div>
<div class="t" style="left:671.2px;top:95.5px;font-size:16.5px;font-weight:bold;font-style:normal;color:#eef6ea;letter-spacing:0.35px;text-shadow:1px 1px 2px rgba(0,0,0,.75)">0.5-1&quot;</div>
<div class="t" style="left:615.4px;top:136.9px;font-size:14px;font-weight:bold;font-style:normal;color:#eef6ea;letter-spacing:0;text-shadow:1px 1px 2px rgba(0,0,0,.75)">Jasper</div>
<div class="t" style="left:615.4px;top:153.6px;font-size:16.5px;font-weight:bold;font-style:normal;color:#eef6ea;letter-spacing:0.35px;text-shadow:1px 1px 2px rgba(0,0,0,.75)">0.5-1&quot;</div>
<div class="t" style="left:525.5px;top:166.8px;font-size:14px;font-weight:bold;font-style:normal;color:#eef6ea;letter-spacing:0;text-shadow:1px 1px 2px rgba(0,0,0,.75)">Rome</div>
<div class="t" style="left:525.5px;top:183.5px;font-size:16.5px;font-weight:bold;font-style:normal;color:#eef6ea;letter-spacing:0.35px;text-shadow:1px 1px 2px rgba(0,0,0,.75)">0.5-1&quot;</div>
<div class="t" style="left:687.0px;top:161.3px;font-size:14px;font-weight:bold;font-style:normal;color:#eef6ea;letter-spacing:0;text-shadow:1px 1px 2px rgba(0,0,0,.75)">Gainesville</div>
<div class="t" style="left:687.0px;top:178.0px;font-size:16.5px;font-weight:bold;font-style:normal;color:#eef6ea;letter-spacing:0.35px;text-shadow:1px 1px 2px rgba(0,0,0,.75)">0.5-1&quot;</div>
<div class="t" style="left:740.5px;top:209.3px;font-size:14px;font-weight:bold;font-style:normal;color:#eef6ea;letter-spacing:0;text-shadow:1px 1px 2px rgba(0,0,0,.75)">Athens</div>
<div class="t" style="left:740.5px;top:226.0px;font-size:16.5px;font-weight:bold;font-style:normal;color:#eef6ea;letter-spacing:0.35px;text-shadow:1px 1px 2px rgba(0,0,0,.75)">0.5-1&quot;</div>
<div class="t" style="left:619.6px;top:238.3px;font-size:14px;font-weight:bold;font-style:normal;color:#eef6ea;letter-spacing:0;text-shadow:1px 1px 2px rgba(0,0,0,.75)">Atlanta</div>
<div class="t" style="left:619.6px;top:255.0px;font-size:16.5px;font-weight:bold;font-style:normal;color:#eef6ea;letter-spacing:0.35px;text-shadow:1px 1px 2px rgba(0,0,0,.75)">0.5-1&quot;</div>
<div class="t" style="left:538.5px;top:262.3px;font-size:14px;font-weight:bold;font-style:normal;color:#eef6ea;letter-spacing:0;text-shadow:1px 1px 2px rgba(0,0,0,.75)">Carrollton</div>
<div class="t" style="left:538.5px;top:279.0px;font-size:16.5px;font-weight:bold;font-style:normal;color:#eef6ea;letter-spacing:0.35px;text-shadow:1px 1px 2px rgba(0,0,0,.75)">0.5-1&quot;</div>
<div class="t" style="left:730.0px;top:260.3px;font-size:14px;font-weight:bold;font-style:normal;color:#eef6ea;letter-spacing:0;text-shadow:1px 1px 2px rgba(0,0,0,.75)">Madison</div>
<div class="t" style="left:730.0px;top:277.0px;font-size:16.5px;font-weight:bold;font-style:normal;color:#eef6ea;letter-spacing:0.35px;text-shadow:1px 1px 2px rgba(0,0,0,.75)">0.5-1&quot;</div>
<div class="t" style="left:635.5px;top:309.3px;font-size:14px;font-weight:bold;font-style:normal;color:#eef6ea;letter-spacing:0;text-shadow:1px 1px 2px rgba(0,0,0,.75)">Griffin</div>
<div class="t" style="left:635.5px;top:326.0px;font-size:16.5px;font-weight:bold;font-style:normal;color:#eef6ea;letter-spacing:0.35px;text-shadow:1px 1px 2px rgba(0,0,0,.75)">0.5-1&quot;</div>
<div class="t" style="left:543.3px;top:338.3px;font-size:14px;font-weight:bold;font-style:normal;color:#eef6ea;letter-spacing:0;text-shadow:1px 1px 2px rgba(0,0,0,.75)">LaGrange</div>
<div class="t" style="left:543.3px;top:355.0px;font-size:16.5px;font-weight:bold;font-style:normal;color:#eef6ea;letter-spacing:0.35px;text-shadow:1px 1px 2px rgba(0,0,0,.75)">0.5-1&quot;</div>
<div class="t" style="left:627.5px;top:359.1px;font-size:14px;font-weight:bold;font-style:normal;color:#eef6ea;letter-spacing:0;text-shadow:1px 1px 2px rgba(0,0,0,.75)">Thomaston</div>
<div class="t" style="left:627.5px;top:375.8px;font-size:16.5px;font-weight:bold;font-style:normal;color:#eef6ea;letter-spacing:0.35px;text-shadow:1px 1px 2px rgba(0,0,0,.75)">0.5&quot;</div>
<div class="t" style="left:709.1px;top:366.6px;font-size:14px;font-weight:bold;font-style:normal;color:#eef6ea;letter-spacing:0;text-shadow:1px 1px 2px rgba(0,0,0,.75)">Macon</div>
<div class="t" style="left:709.1px;top:383.3px;font-size:16.5px;font-weight:bold;font-style:normal;color:#eef6ea;letter-spacing:0.35px;text-shadow:1px 1px 2px rgba(0,0,0,.75)">0.2-0.5&quot;</div>
<div class="t" style="left:548.9px;top:418.1px;font-size:14px;font-weight:bold;font-style:normal;color:#eef6ea;letter-spacing:0;text-shadow:1px 1px 2px rgba(0,0,0,.75)">Columbus</div>
<div class="t" style="left:548.9px;top:434.8px;font-size:16.5px;font-weight:bold;font-style:normal;color:#eef6ea;letter-spacing:0.35px;text-shadow:1px 1px 2px rgba(0,0,0,.75)">0.5-1&quot;</div>
<div class="t" style="left:638.9px;top:472.3px;font-size:14px;font-weight:bold;font-style:normal;color:#eef6ea;letter-spacing:0;text-shadow:1px 1px 2px rgba(0,0,0,.75)">Americus</div>
<div class="t" style="left:638.9px;top:489.0px;font-size:16.5px;font-weight:bold;font-style:normal;color:#eef6ea;letter-spacing:0.35px;text-shadow:1px 1px 2px rgba(0,0,0,.75)">0.2-0.5&quot;</div>
<div class="t" style="left:748.7px;top:483.3px;font-size:14px;font-weight:bold;font-style:normal;color:#eef6ea;letter-spacing:0;text-shadow:1px 1px 2px rgba(0,0,0,.75)">Abbeville</div>
<div class="t" style="left:748.7px;top:500.0px;font-size:16.5px;font-weight:bold;font-style:normal;color:#eef6ea;letter-spacing:0.35px;text-shadow:1px 1px 2px rgba(0,0,0,.75)">0.2-0.5&quot;</div>
<div class="t" style="left:797.0px;top:407.5px;font-size:14px;font-weight:bold;font-style:normal;color:#eef6ea;letter-spacing:0;text-shadow:1px 1px 2px rgba(0,0,0,.75)">Dublin</div>
<div class="t" style="left:797.0px;top:424.2px;font-size:16.5px;font-weight:bold;font-style:normal;color:#eef6ea;letter-spacing:0.35px;text-shadow:1px 1px 2px rgba(0,0,0,.75)">0.2-0.5&quot;</div>

</body></html>
